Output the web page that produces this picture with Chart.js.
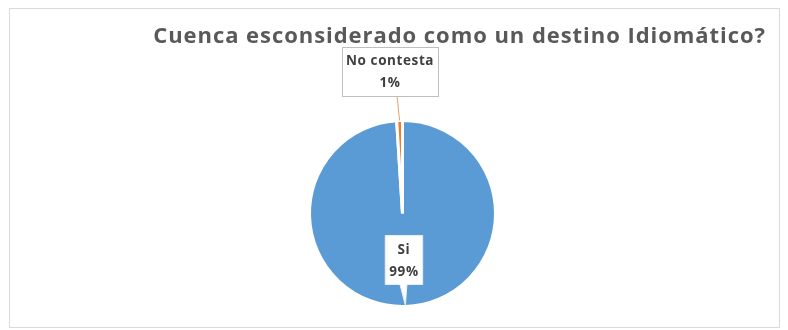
<!DOCTYPE html>
<html>
<head>
<meta charset="utf-8">
<script src="https://cdn.jsdelivr.net/npm/chart.js@4.4.1/dist/chart.umd.min.js"></script>
<style>
  html, body { margin: 0; padding: 0; background: #fff; }
  #wrap { width: 788px; height: 330px; }
</style>
</head>
<body>
<div id="wrap"><canvas id="pieChart"></canvas></div>
<script>
// Encuesta: ¿Cuenca es considerado como un destino idiomático?
const categories = ['Si', 'No contesta'];
const respuestas = [99, 1];
const sliceColors = ['#5B9BD5', '#ED7D31'];
const chartTitle = 'Cuenca esconsiderado como un destino Idiomático?';

const FONT = "'Open Sans', sans-serif";

// white page, thin grey frame and the title (right aligned, slightly tracked)
const framePlugin = {
    id: 'frame',
    beforeDraw(chart) {
        const ctx = chart.ctx;
        ctx.save();
        ctx.fillStyle = '#ffffff';
        ctx.fillRect(0, 0, chart.width, chart.height);
        ctx.strokeStyle = '#d9d9d9';
        ctx.lineWidth = 1;
        ctx.strokeRect(9.5, 8.5, 770, 319);

        ctx.font = 'bold 22px ' + FONT;
        ctx.letterSpacing = '0.95px';
        ctx.fillStyle = '#595959';
        ctx.textAlign = 'right';
        ctx.textBaseline = 'alphabetic';
        ctx.fillText(chartTitle, 766, 43);
        ctx.restore();
    }
};

// Excel-style data callouts: "category \n pct%"
const calloutOpts = [
    { radius: 0.5, dx: 0, tail: true },    // Si: inside, tail down to edge
    { radius: 1.53, dx: -8, tail: false }  // No contesta: outside, leader line
];

const calloutPlugin = {
    id: 'callouts',
    afterDatasetsDraw(chart) {
        const ctx = chart.ctx;
        const meta = chart.getDatasetMeta(0);
        const values = chart.data.datasets[0].data;
        const total = values.reduce((a, b) => a + b, 0);
        const lineH = 22, padX = 4, padY = 2.5;

        ctx.save();
        ctx.font = 'bold 13.5px ' + FONT;
        ctx.letterSpacing = '0.6px';
        ctx.textAlign = 'center';
        ctx.textBaseline = 'middle';

        meta.data.forEach((arc, i) => {
            const p = arc.getProps(['x', 'y', 'startAngle', 'endAngle', 'outerRadius'], true);
            const mid = (p.startAngle + p.endAngle) / 2;
            const o = calloutOpts[i];
            const lines = [chart.data.labels[i], Math.round(values[i] / total * 100) + '%'];
            const w = Math.max(...lines.map(t => ctx.measureText(t).width)) + padX * 2;
            const h = lines.length * lineH + padY * 2;
            const cx = p.x + Math.cos(mid) * p.outerRadius * o.radius + o.dx;
            const cy = p.y + Math.sin(mid) * p.outerRadius * o.radius;
            const left = cx - w / 2, top = cy - h / 2;

            const edgeX = p.x + Math.cos(mid) * p.outerRadius;
            const edgeY = p.y + Math.sin(mid) * p.outerRadius;

            if (o.tail) {
                // box with a pointed tail reaching the slice edge
                ctx.beginPath();
                ctx.moveTo(left, top);
                ctx.lineTo(left + w, top);
                ctx.lineTo(left + w, top + h);
                ctx.lineTo(cx + 3, top + h);
                ctx.lineTo(edgeX, edgeY - 1);
                ctx.lineTo(cx - 4, top + h);
                ctx.lineTo(left, top + h);
                ctx.closePath();
                ctx.fillStyle = '#ffffff';
                ctx.fill();
                ctx.strokeStyle = '#e8eef5';
                ctx.lineWidth = 1;
                ctx.stroke();
            } else {
                ctx.beginPath();
                ctx.moveTo(cx + 7, top + h);
                ctx.lineTo(edgeX, edgeY);
                ctx.strokeStyle = '#e9a06b';
                ctx.lineWidth = 1;
                ctx.stroke();
                ctx.fillStyle = '#ffffff';
                ctx.fillRect(left, top, w, h);
                ctx.strokeStyle = '#bfbfbf';
                ctx.strokeRect(Math.round(left) + 0.5, Math.round(top) + 0.5, Math.round(w), Math.round(h));
            }

            ctx.fillStyle = '#404040';
            lines.forEach((t, k) => {
                ctx.fillText(t, cx, top + padY + 1 + lineH * (k + 0.5));
            });
        });
        ctx.restore();
    }
};

new Chart(document.getElementById('pieChart'), {
    type: 'pie',
    data: {
        labels: categories,
        datasets: [{
            data: respuestas,
            backgroundColor: sliceColors,
            borderColor: '#ffffff',
            borderWidth: 3
        }]
    },
    options: {
        responsive: true,
        maintainAspectRatio: false,
        animation: false,
        layout: { padding: { top: 119, bottom: 22, left: 40, right: 23 } },
        plugins: {
            legend: { display: false },
            tooltip: { enabled: false },
            title: { display: false }
        }
    },
    plugins: [framePlugin, calloutPlugin]
});
</script>
</body>
</html>
